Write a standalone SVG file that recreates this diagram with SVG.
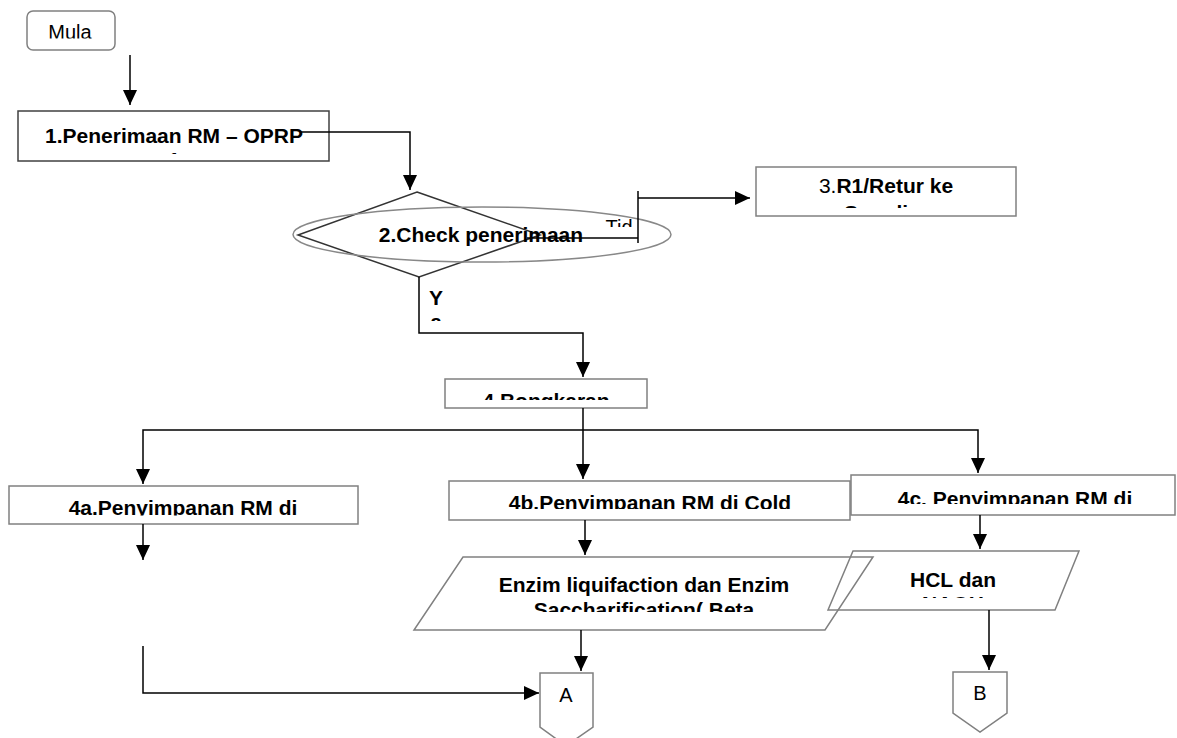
<svg xmlns="http://www.w3.org/2000/svg" width="1177" height="738" viewBox="0 0 1177 738">
<style>
.box{fill:#fff;stroke:#808080;stroke-width:1.5}
.dark{fill:#fff;stroke:#404040;stroke-width:1.5}
.shape{fill:none;stroke:#808080;stroke-width:1.5}
.dia{fill:none;stroke:#333;stroke-width:1.5}
.t{font-family:"Liberation Sans",Arial,sans-serif;font-size:21px;font-weight:bold;fill:#000;text-anchor:middle}
.n{font-family:"Liberation Sans",Arial,sans-serif;font-size:20px;font-weight:normal;fill:#000;text-anchor:middle}
.c{fill:none;stroke:#000;stroke-width:1.5}
</style>
<defs>
<marker id="ah" markerUnits="userSpaceOnUse" markerWidth="16" markerHeight="14" refX="15" refY="7" orient="auto">
<path d="M0,0 L15,7 L0,14 Z" fill="#000"/>
</marker>
<clipPath id="cMula"><rect x="27" y="11" width="88" height="27.5"/></clipPath>
<clipPath id="c1"><rect x="18" y="111" width="311" height="43"/></clipPath>
<clipPath id="c3"><rect x="756" y="167" width="260" height="41"/></clipPath>
<clipPath id="cTid"><rect x="600" y="210" width="34" height="17"/></clipPath>
<clipPath id="cY"><rect x="425" y="280" width="30" height="41"/></clipPath>
<clipPath id="c4"><rect x="445" y="379" width="202" height="21"/></clipPath>
<clipPath id="c4a"><rect x="9" y="486" width="349" height="29.5"/></clipPath>
<clipPath id="c4b"><rect x="449" y="481" width="401" height="28"/></clipPath>
<clipPath id="c4c"><rect x="850" y="475" width="327" height="29"/></clipPath>
<clipPath id="cEnz"><rect x="414" y="557" width="460" height="55"/></clipPath>
<clipPath id="cHCL"><rect x="828" y="551" width="251" height="47"/></clipPath>
</defs>

<g id="mula">
<rect x="27" y="11" width="88" height="39" rx="6" ry="6" class="box"/>
<text x="70" y="39" class="n" clip-path="url(#cMula)">Mula</text>
</g>

<g id="n1">
<rect x="18" y="111" width="311" height="50" class="dark"/>
<g clip-path="url(#c1)">
<text x="174" y="143" class="t">1.Penerimaan RM – OPRP</text>
<text x="174" y="167" class="t">1</text>
</g>
</g>

<g id="n2">
<polygon points="417,192 540,235 419,277 298,235" class="dia"/>
<ellipse cx="482" cy="234.5" rx="189" ry="27.5" fill="none" stroke="#888" stroke-width="1.5"/>
<text x="481" y="242" class="t">2.Check penerimaan</text>
</g>

<g id="n3">
<rect x="756" y="167" width="260" height="49" class="box"/>
<g clip-path="url(#c3)">
<text x="886" y="193" class="t"><tspan font-weight="normal">3.</tspan>R1/Retur ke</text>
<text x="886" y="220" class="t">Supplier</text>
</g>
</g>

<g id="n4">
<rect x="445" y="379" width="202" height="29" class="box"/>
<text x="546" y="408" class="t" clip-path="url(#c4)">4.Bongkaran</text>
</g>

<g id="n4a">
<rect x="9" y="486" width="349" height="38" class="box"/>
<text x="183" y="515" class="t" clip-path="url(#c4a)">4a.Penyimpanan RM di</text>
</g>

<g id="n4b">
<rect x="449" y="481" width="401" height="39" class="box"/>
<text x="650" y="510" class="t" clip-path="url(#c4b)">4b.Penyimpanan RM di Cold</text>
</g>

<g id="n4c">
<rect x="851" y="475" width="324" height="40" class="box"/>
<text x="1015" y="506" class="t" clip-path="url(#c4c)">4c. Penyimpanan RM di</text>
</g>

<g id="enzim">
<polygon points="463,557 873,557 825,630 414,630" class="shape"/>
<g clip-path="url(#cEnz)">
<text x="644" y="592" class="t">Enzim liquifaction dan Enzim</text>
<text x="644" y="617" class="t">Saccharification( Beta</text>
</g>
</g>

<g id="hcl">
<polygon points="853,551 1079,551 1055,610 828,610" class="shape"/>
<g clip-path="url(#cHCL)">
<text x="953" y="587" class="t">HCL dan</text>
<text x="953" y="611" class="t">NAOH</text>
</g>
</g>

<g id="connA">
<polygon points="540,673 593,673 593,727 566,746 540,727" class="shape"/>
<text x="566" y="702" class="n">A</text>
</g>

<g id="connB">
<polygon points="953,672 1007,672 1007,713 980,732 953,713" class="shape"/>
<text x="980" y="700" class="n">B</text>
</g>

<g id="connectors">
<line x1="130" y1="55" x2="130" y2="105" class="c" marker-end="url(#ah)"/>
<polyline points="300,132 410,132 410,190" class="c" marker-end="url(#ah)"/>
<line x1="527" y1="238" x2="638" y2="238" class="c"/>
<line x1="638" y1="191" x2="638" y2="243" class="c"/>
<line x1="638" y1="198" x2="750" y2="198" class="c" marker-end="url(#ah)"/>
<polyline points="419,277 419,333 583,333 583,377" class="c" marker-end="url(#ah)"/>
<line x1="583" y1="408" x2="583" y2="479" class="c" marker-end="url(#ah)"/>
<polyline points="583,430 143,430 143,484" class="c" marker-end="url(#ah)"/>
<polyline points="583,430 978,430 978,473" class="c" marker-end="url(#ah)"/>
<line x1="143" y1="524" x2="143" y2="560" class="c" marker-end="url(#ah)"/>
<line x1="585" y1="520" x2="585" y2="555" class="c" marker-end="url(#ah)"/>
<line x1="980" y1="515" x2="980" y2="549" class="c" marker-end="url(#ah)"/>
<line x1="581" y1="630" x2="581" y2="671" class="c" marker-end="url(#ah)"/>
<line x1="989" y1="610" x2="989" y2="670" class="c" marker-end="url(#ah)"/>
<polyline points="143,646 143,693 539,693" class="c" marker-end="url(#ah)"/>
<text x="436" y="305" class="t" clip-path="url(#cY)">Y</text>
<text x="436" y="329" class="t" clip-path="url(#cY)">a</text>
<text x="619" y="234" class="n" clip-path="url(#cTid)">Tid</text>
</g>
</svg>
